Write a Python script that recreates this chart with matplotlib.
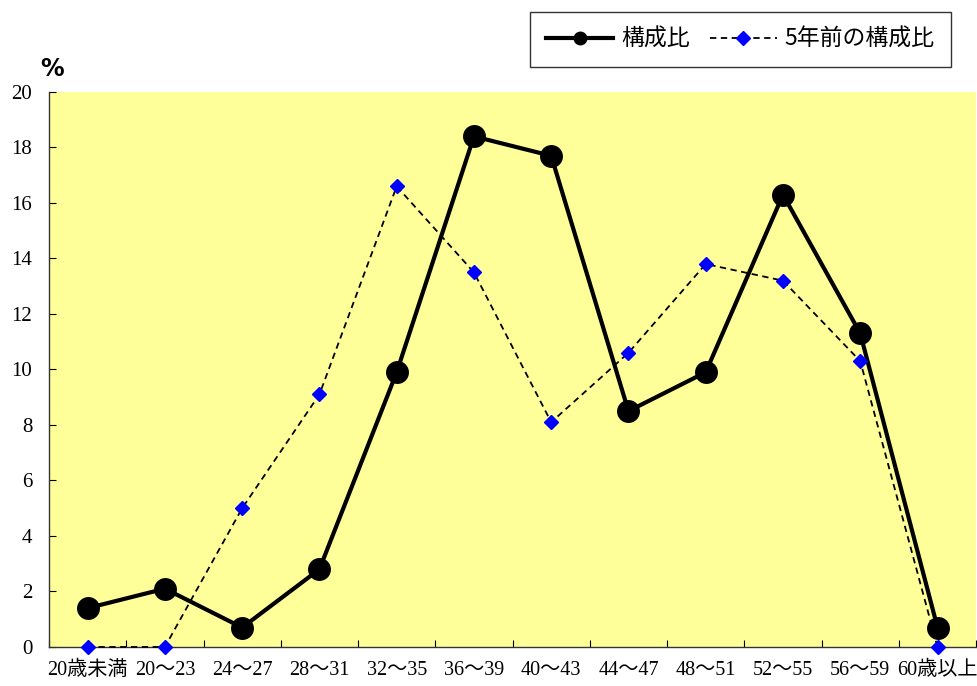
import numpy as np
import matplotlib
matplotlib.use('Agg')
import matplotlib.pyplot as plt
from matplotlib.ticker import FixedLocator

plt.rcParams['font.family'] = ['Liberation Serif', 'Noto Sans CJK JP', 'DejaVu Sans']

categories = ['20歳未満', '20〜23', '24〜27', '28〜31', '32〜35', '36〜39',
              '40〜43', '44〜47', '48〜51', '52〜55', '56〜59', '60歳以上']
ratio_now = [1.4, 2.1, 0.7, 2.8, 9.9, 18.4, 17.7, 8.5, 9.9, 16.3, 11.3, 0.7]
ratio_5y = [0.0, 0.0, 5.0, 9.1, 16.6, 13.5, 8.1, 10.6, 13.8, 13.2, 10.3, 0.0]

x = np.arange(len(categories))

fig = plt.figure(figsize=(9.78, 6.86), dpi=100)
ax = fig.add_axes([0.0501, 0.0569, 0.948, 0.809])
ax.set_facecolor('#FFFF99')

ax.plot(x, ratio_now, color='black', lw=3, marker='o', ms=15.5,
        label='構成比', clip_on=False, zorder=3)
ax.plot(x, ratio_5y, color='black', lw=1.3, ls=(0, (3.5, 2.5)), marker='D', ms=7.5,
        mfc='#0000FF', mec='#0000FF', label='5年前の構成比', clip_on=False, zorder=4)

ax.set_xlim(-0.5, len(categories) - 0.5)
ax.set_ylim(0, 20)
ax.set_yticks(np.arange(0, 21, 2))
ax.set_xticks(x)
ax.set_xticklabels(categories, fontsize=14.5)
ax.xaxis.set_minor_locator(FixedLocator(np.arange(-0.5, len(categories), 1)))
ax.tick_params(axis='x', which='major', length=0, pad=10)
ax.tick_params(axis='x', which='minor', direction='in', length=5, width=0.8)
ax.tick_params(axis='y', direction='in', length=5, width=0.8, labelsize=15, pad=12)

for s in ['top', 'right']:
    ax.spines[s].set_visible(False)
for s in ['left', 'bottom']:
    ax.spines[s].set_linewidth(1.0)
    ax.spines[s].set_color('#333333')

fig.text(0.053, 0.9, '%', fontsize=17, fontweight='bold', family='DejaVu Sans',
         ha='center', va='center')

leg = ax.legend(loc='center', bbox_to_anchor=(0.7572, 0.9424), bbox_transform=fig.transFigure,
                ncol=2, frameon=True, fancybox=False, edgecolor='black',
                handlelength=2.9, handletextpad=0.35, columnspacing=0.9, borderpad=0.7,
                prop={'family': ['Noto Sans CJK JP'], 'size': 16.5})
leg.get_frame().set_linewidth(1.0)
leg.legend_handles[0].set_markersize(9)
leg.legend_handles[1].set_markersize(7.5)

fig.savefig('out.png', dpi=100)
